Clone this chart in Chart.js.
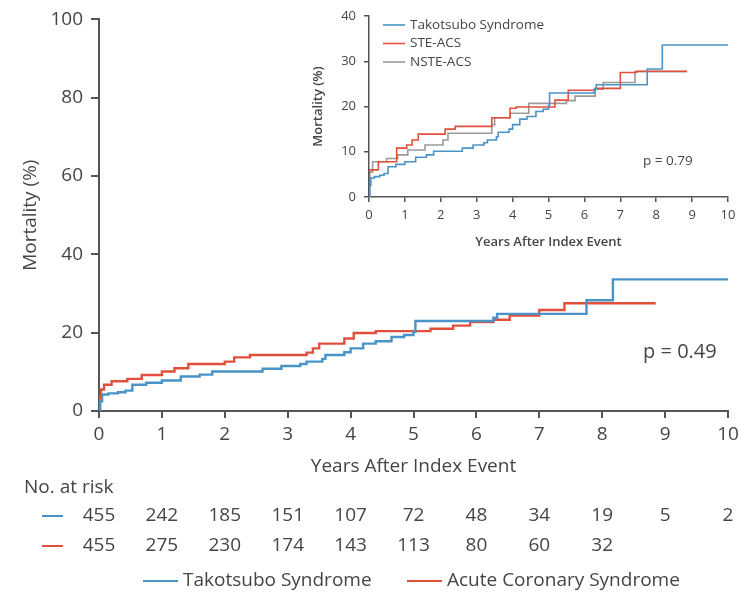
<!DOCTYPE html>
<html lang="en">
<head>
    <meta charset="UTF-8">
    <title>Mortality after index event</title>
    <script src="https://cdn.jsdelivr.net/npm/chart.js"></script>
    <style>
        body {
            margin: 0;
            background: #fff;
        }

        .wrap {
            position: relative;
            width: 749px;
            height: 596px;
        }

        #mainChart {
            position: absolute;
            left: 0;
            top: 0;
        }

        #insetChart {
            position: absolute;
            left: 300px;
            top: 0;
        }
    </style>
</head>
<body>
    <div class="wrap">
        <canvas id="mainChart" width="749" height="596"></canvas>
        <canvas id="insetChart" width="449" height="260"></canvas>
    </div>

    <script>
        // Kaplan-Meier steps: years, cumulative mortality (%)
        const ttsYears = [0, 0.02, 0.05, 0.15, 0.3, 0.42, 0.53, 0.75, 1.0, 1.3, 1.6, 1.8, 2.6, 2.9, 3.2, 3.3, 3.55, 3.6, 3.9, 4.0, 4.2, 4.4, 4.65, 4.85, 5.0, 5.03, 6.27, 6.33, 7.75, 8.17, 10.0];
        const ttsMort = [0, 2.5, 4.2, 4.5, 4.8, 5.2, 6.7, 7.2, 7.8, 8.8, 9.3, 10.1, 10.8, 11.5, 12.0, 12.6, 13.3, 14.3, 15.0, 16.0, 17.2, 17.8, 18.9, 19.4, 20.2, 23.0, 23.8, 24.8, 28.3, 33.6, 33.6];

        const acsYears = [0, 0.01, 0.03, 0.08, 0.2, 0.45, 0.68, 1.0, 1.2, 1.42, 2.0, 2.15, 2.4, 3.3, 3.4, 3.5, 3.9, 4.05, 4.4, 5.27, 5.63, 5.9, 6.27, 6.53, 7.0, 7.4, 8.85];
        const acsMort = [0, 3.5, 5.5, 6.7, 7.6, 8.2, 9.2, 10.1, 10.9, 12.0, 12.6, 13.7, 14.3, 14.9, 16.0, 17.2, 18.5, 19.9, 20.4, 21.0, 21.8, 22.7, 23.3, 24.4, 25.8, 27.5, 27.5];

        // inset: ACS split by ECG type
        const steYears = [0, 0.01, 0.26, 0.77, 1.05, 1.2, 1.37, 2.12, 2.4, 3.42, 3.93, 4.1, 5.18, 5.55, 6.3, 7.0, 7.45, 8.86];
        const steMort = [0, 6.0, 7.8, 10.8, 11.5, 12.6, 13.9, 15.0, 15.6, 17.5, 19.6, 19.9, 21.4, 23.6, 24.0, 27.5, 27.8, 27.8];

        const nsteYears = [0, 0.02, 0.1, 0.49, 0.8, 1.08, 1.56, 2.06, 2.2, 3.42, 3.5, 3.93, 4.45, 5.5, 5.74, 6.3, 6.52, 7.41, 8.86];
        const nsteMort = [0, 5.5, 7.8, 8.5, 9.3, 10.4, 11.5, 12.6, 14.1, 16.0, 17.5, 18.5, 20.7, 21.3, 22.3, 23.8, 25.3, 27.7, 27.7];

        // numbers at risk
        const riskYears = [0, 1, 2, 3, 4, 5, 6, 7, 8, 9, 10];
        const riskTTS = [455, 242, 185, 151, 107, 72, 48, 34, 19, 5, 2];
        const riskACS = [455, 275, 230, 174, 143, 113, 80, 60, 32];

        const BLUE = '#4a93c6';
        const RED = '#e2503c';
        const GRAY = '#9b9b9b';
        const AXIS = '#555555';
        const TEXT = '#454545';

        Chart.defaults.font.family = "'Open Sans', sans-serif";
        Chart.defaults.color = TEXT;

        function points(xs, ys) {
            return xs.map((x, i) => ({ x: x, y: ys[i] }));
        }

        function kmSet(label, xs, ys, color, width) {
            return {
                label: label,
                data: points(xs, ys),
                borderColor: color,
                borderWidth: width,
                stepped: true,
                pointRadius: 0,
                fill: false
            };
        }

        // risk table, p value and bottom legend for the main chart
        const mainExtras = {
            id: 'mainExtras',
            afterDraw(chart) {
                const c = chart.ctx;
                const xs = chart.scales.x;
                const ys = chart.scales.y;
                c.save();
                c.fillStyle = TEXT;
                c.font = "20px 'Open Sans', sans-serif";
                c.textAlign = 'left';
                c.textBaseline = 'middle';
                c.fillText('p = 0.49', xs.getPixelForValue(8.65), ys.getPixelForValue(15));

                c.font = "19px 'Open Sans', sans-serif";
                c.fillText('No. at risk', 24, 488);

                const rows = [[riskTTS, BLUE, 516], [riskACS, RED, 546]];
                rows.forEach(([vals, color, y]) => {
                    c.strokeStyle = color;
                    c.lineWidth = 2;
                    c.beginPath();
                    c.moveTo(42, y);
                    c.lineTo(63, y);
                    c.stroke();
                    c.textAlign = 'center';
                    c.fillStyle = TEXT;
                    vals.forEach((v, i) => {
                        c.fillText(String(v), xs.getPixelForValue(riskYears[i]), y);
                    });
                });

                // legend
                const legend = [[chart.data.datasets[0], 143], [chart.data.datasets[1], 407]];
                c.textAlign = 'left';
                legend.forEach(([ds, x]) => {
                    c.strokeStyle = ds.borderColor;
                    c.lineWidth = 2;
                    c.beginPath();
                    c.moveTo(x, 581);
                    c.lineTo(x + 35, 581);
                    c.stroke();
                    c.fillStyle = TEXT;
                    c.fillText(ds.label, x + 40, 581);
                });
                c.restore();
            }
        };

        new Chart(document.getElementById('mainChart'), {
            type: 'line',
            data: {
                datasets: [
                    kmSet('Takotsubo Syndrome', ttsYears, ttsMort, BLUE, 2.4),
                    kmSet('Acute Coronary Syndrome', acsYears, acsMort, RED, 2.4)
                ]
            },
            options: {
                responsive: false,
                animation: false,
                layout: { padding: { left: 0, right: 21, top: 17, bottom: 0 } },
                plugins: { legend: { display: false }, tooltip: { enabled: false } },
                scales: {
                    x: {
                        type: 'linear',
                        min: 0,
                        max: 10,
                        afterFit: s => { s.height = 185; },
                        border: { display: true, color: AXIS, width: 2 },
                        grid: { drawOnChartArea: false, drawTicks: true, tickLength: 7, color: AXIS, lineWidth: 2 },
                        ticks: { stepSize: 1, padding: 5, font: { size: 19 }, color: TEXT },
                        title: {
                            display: true,
                            text: 'Years After Index Event',
                            font: { size: 19 },
                            color: TEXT,
                            padding: { top: 0, bottom: 118 }
                        }
                    },
                    y: {
                        min: 0,
                        max: 100,
                        afterFit: s => { s.width = 99; },
                        border: { display: true, color: AXIS, width: 2 },
                        grid: { drawOnChartArea: false, drawTicks: true, tickLength: 8, color: AXIS, lineWidth: 2 },
                        ticks: { stepSize: 20, padding: 8, font: { size: 19 }, color: TEXT },
                        title: {
                            display: true,
                            text: 'Mortality (%)',
                            font: { size: 19 },
                            color: TEXT,
                            padding: { top: 19, bottom: 0 }
                        }
                    }
                }
            },
            plugins: [mainExtras]
        });

        // inset legend and p value
        const insetExtras = {
            id: 'insetExtras',
            afterDraw(chart) {
                const c = chart.ctx;
                const xs = chart.scales.x;
                const ys = chart.scales.y;
                c.save();
                c.font = "13.5px 'Open Sans', sans-serif";
                c.textBaseline = 'middle';
                c.textAlign = 'left';
                chart.data.datasets.forEach((ds, i) => {
                    const y = 25 + i * 18.5;
                    c.strokeStyle = ds.borderColor;
                    c.lineWidth = 1.6;
                    c.beginPath();
                    c.moveTo(83, y);
                    c.lineTo(105, y);
                    c.stroke();
                    c.fillStyle = TEXT;
                    c.fillText(ds.label, 110, y);
                });
                c.fillText('p = 0.79', xs.getPixelForValue(7.63), ys.getPixelForValue(8));
                c.restore();
            }
        };

        new Chart(document.getElementById('insetChart'), {
            type: 'line',
            data: {
                datasets: [
                    kmSet('Takotsubo Syndrome', ttsYears, ttsMort, BLUE, 1.6),
                    kmSet('STE-ACS', steYears, steMort, RED, 1.6),
                    kmSet('NSTE-ACS', nsteYears, nsteMort, GRAY, 1.6)
                ]
            },
            options: {
                responsive: false,
                animation: false,
                layout: { padding: { left: 0, right: 21, top: 16, bottom: 0 } },
                plugins: { legend: { display: false }, tooltip: { enabled: false } },
                scales: {
                    x: {
                        type: 'linear',
                        min: 0,
                        max: 10,
                        afterFit: s => { s.height = 63; },
                        border: { display: true, color: AXIS, width: 1.5 },
                        grid: { drawOnChartArea: false, drawTicks: true, tickLength: 5, color: AXIS, lineWidth: 1.5 },
                        ticks: { stepSize: 1, padding: 5, font: { size: 13 }, color: TEXT },
                        title: {
                            display: true,
                            text: 'Years After Index Event',
                            font: { size: 13, weight: '600' },
                            color: TEXT,
                            padding: { top: 0, bottom: 10 }
                        }
                    },
                    y: {
                        min: 0,
                        max: 40,
                        afterFit: s => { s.width = 69; },
                        border: { display: true, color: AXIS, width: 1.5 },
                        grid: { drawOnChartArea: false, drawTicks: true, tickLength: 5, color: AXIS, lineWidth: 1.5 },
                        ticks: { stepSize: 10, padding: 8, font: { size: 13 }, color: TEXT },
                        title: {
                            display: true,
                            text: 'Mortality (%)',
                            font: { size: 13, weight: '600' },
                            color: TEXT,
                            padding: { top: 10, bottom: 0 }
                        }
                    }
                }
            },
            plugins: [insetExtras]
        });
    </script>
</body>
</html>
